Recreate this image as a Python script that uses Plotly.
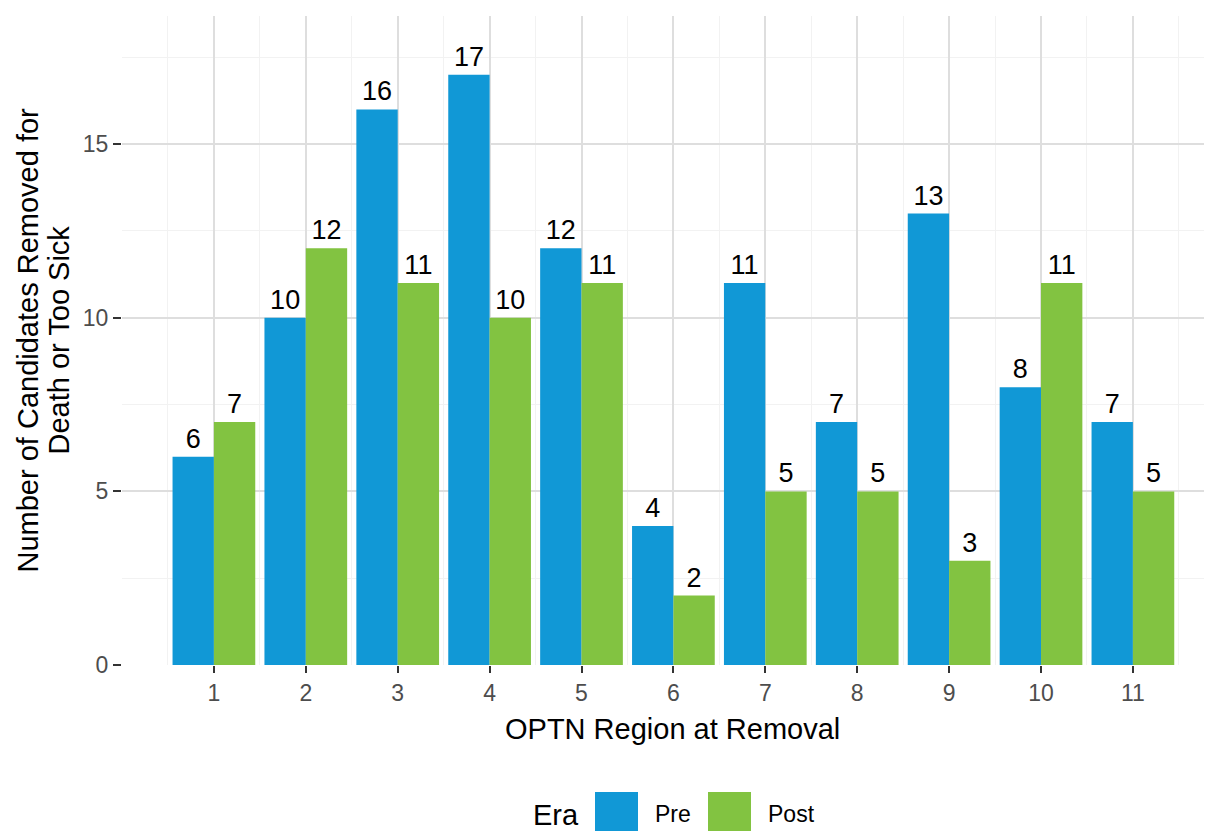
import plotly.graph_objects as go

# OPTN regions and counts by era
regions = [1, 2, 3, 4, 5, 6, 7, 8, 9, 10, 11]
pre_counts = [6, 10, 16, 17, 12, 4, 11, 7, 13, 8, 7]
post_counts = [7, 12, 11, 10, 11, 2, 5, 5, 3, 11, 5]
y_ticks = [0, 5, 10, 15]
era_names = ["Pre", "Post"]
era_colors = ["#1198D6", "#82C341"]

FONT = "Liberation Sans, Arial, Helvetica, sans-serif"
# the page body adds an 8px margin, so the figure is laid out 8px up/left
OFF = 8
W, H = 1212 - OFF, 831 - OFF
ML, MR, MT, MB = 122 - OFF, 0, 16 - OFF, 831 - 665
PW, PH = W - ML - MR, H - MT - MB


def px_x(p):
    # screen pixel column -> paper x
    return (p - OFF - ML) / PW


def px_y(p):
    # screen pixel row -> paper y
    return (H - MB - (p - OFF)) / PH


fig = go.Figure()
for name, vals, col in zip(era_names, [pre_counts, post_counts], era_colors):
    fig.add_trace(go.Bar(
        x=regions,
        y=vals,
        name=name,
        marker=dict(color=col, line=dict(width=0)),
        text=vals,
        textposition="outside",
        textfont=dict(family=FONT, size=27, color="black"),
        cliponaxis=False,
        showlegend=False,
    ))

fig.update_layout(
    width=W, height=H,
    margin=dict(l=ML, r=MR, t=MT, b=MB, autoexpand=False),
    paper_bgcolor="white",
    plot_bgcolor="white",
    barmode="group",
    bargap=0.1,
    bargroupgap=0,
    font=dict(family=FONT),
)

fig.update_xaxes(
    range=[0.0, PW / 91.9],
    tickvals=regions,
    ticks="outside", ticklen=7, tickwidth=2, tickcolor="#333333",
    tickfont=dict(size=23, color="#4D4D4D"),
    showgrid=True, gridcolor="#DEDEDE", gridwidth=2,
    minor=dict(tick0=0.5, dtick=1, showgrid=True, gridcolor="#F2F2F2", gridwidth=1),
    zeroline=False, showline=False,
)
fig.update_yaxes(
    range=[0, 18.69],
    tickvals=y_ticks,
    ticks="outside", ticklen=8, tickwidth=2, tickcolor="#333333",
    tickfont=dict(size=23, color="#4D4D4D"),
    showgrid=True, gridcolor="#DEDEDE", gridwidth=2,
    minor=dict(tick0=0, dtick=2.5, showgrid=True, gridcolor="#F2F2F2", gridwidth=1),
    zeroline=False, showline=False,
)

title_font = dict(family=FONT, size=29, color="black")
annots = [
    dict(text="OPTN Region at Removal", x=px_x(673), y=px_y(729),
         xanchor="center", yanchor="middle", font=title_font),
    dict(text="Number of Candidates Removed for", x=px_x(27), y=0.5,
         textangle=-90, xanchor="center", yanchor="middle", font=title_font),
    dict(text="Death or Too Sick", x=px_x(58), y=0.5,
         textangle=-90, xanchor="center", yanchor="middle", font=title_font),
    # legend texts
    dict(text="Era", x=px_x(556), y=px_y(815), xanchor="center", yanchor="middle", font=title_font),
    dict(text="Pre", x=px_x(653), y=px_y(814), xanchor="left", yanchor="middle",
         font=dict(family=FONT, size=23, color="black")),
    dict(text="Post", x=px_x(766), y=px_y(814), xanchor="left", yanchor="middle",
         font=dict(family=FONT, size=23, color="black")),
]
for a in annots:
    fig.add_annotation(xref="paper", yref="paper", showarrow=False, **a)

# legend keys
for x0, col in zip([595, 708], era_colors):
    fig.add_shape(type="rect", xref="paper", yref="paper",
                  x0=px_x(x0), x1=px_x(x0 + 43), y0=px_y(792), y1=px_y(835),
                  fillcolor=col, line=dict(width=0))

fig.write_html("out.html")
